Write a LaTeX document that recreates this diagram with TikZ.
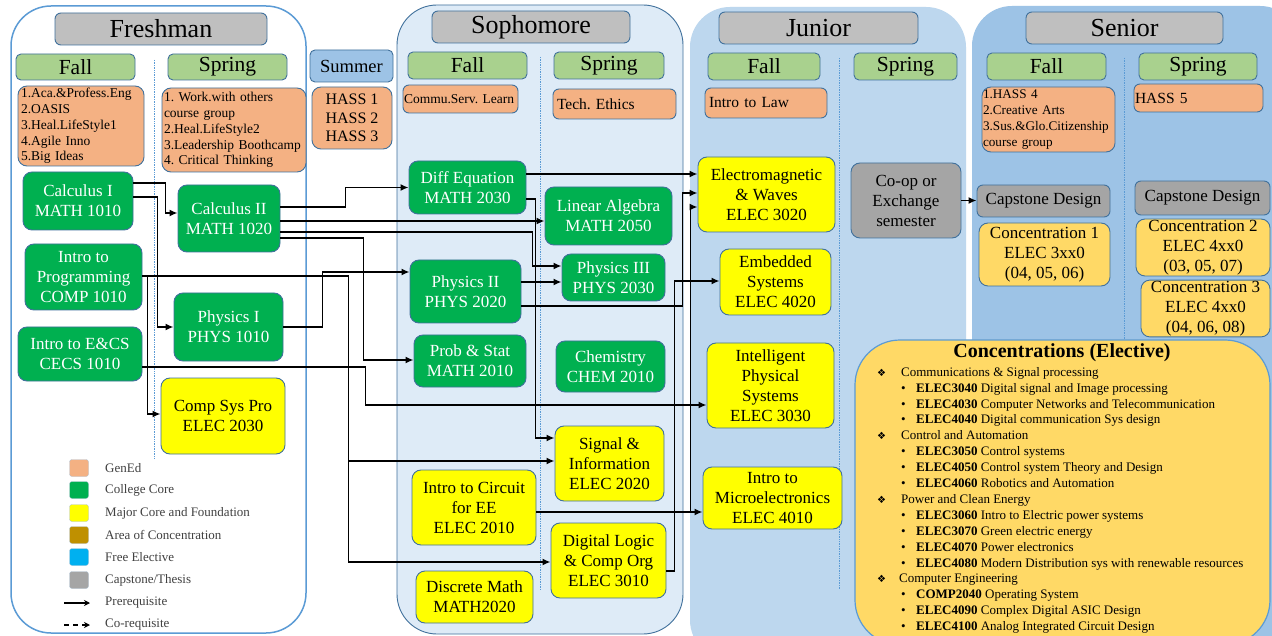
\documentclass[tikz,border=0pt]{standalone}
\usepackage{fontspec}
\setmainfont{Liberation Serif}
\newfontfamily\dejavu{DejaVu Sans}
\usetikzlibrary{arrows.meta}
\frenchspacing
\definecolor{coreg}{HTML}{00B050}
\definecolor{majy}{HTML}{FFFF00}
\definecolor{genc}{HTML}{F4B183}
\definecolor{semg}{HTML}{A9D18E}
\definecolor{hdrg}{HTML}{BFBFBF}
\definecolor{capg}{HTML}{A5A5A5}
\definecolor{concy}{HTML}{FFD966}
\definecolor{bordc}{HTML}{41719C}
\definecolor{sophc}{HTML}{DEEBF7}
\definecolor{junc}{HTML}{BDD7EE}
\definecolor{senc}{HTML}{9DC3E6}
\definecolor{frbord}{HTML}{5B9BD5}
\definecolor{areac}{HTML}{BF9000}
\definecolor{freec}{HTML}{00B0F0}
\definecolor{legtext}{HTML}{404040}
\tikzset{
  bx/.style={draw=bordc, line width=0.9pt, rounded corners=9pt, inner sep=1pt, align=center},
  wh/.style 2 args={minimum width=#1pt, minimum height=#2pt},
  crs/.style={font=\fontsize{17}{20}\selectfont},
  core/.style={bx, crs, fill=coreg, text=white},
  major/.style={bx, crs, fill=majy},
  concbox/.style={bx, crs, fill=concy},
  capbox/.style={bx, crs, fill=capg},
  yearhdr/.style={bx, fill=hdrg, rounded corners=6pt, font=\fontsize{26}{30}\selectfont},
  semhdr/.style={bx, fill=semg, rounded corners=5pt, font=\fontsize{21.5}{24}\selectfont},
  gened/.style={bx, fill=genc, align=left, rounded corners=9pt},
  gsmall/.style={font=\fontsize{13.5}{15.8}\selectfont},
  conn/.style={line width=1.9pt, -{Latex[length=8pt,width=7pt]}},
  sepline/.style={densely dotted, draw=frbord, line width=0.7pt},
  legbox/.style={draw=bordc!40, rounded corners=2.5pt, minimum width=19pt, minimum height=17pt, inner sep=0pt},
  legtxt/.style={anchor=west, text=legtext, font=\fontsize{13}{15}\selectfont, inner sep=0pt},
}
\begin{document}
\begin{tikzpicture}[x=1pt,y=-1pt]
\useasboundingbox (0,0) rectangle (1272,636);
\fill[white] (0,0) rectangle (1272,636);

% ---------- year panels ----------
\draw[draw=frbord, line width=1.5pt, fill=white, rounded corners=40pt] (11,6) rectangle (306,633);
\draw[draw=bordc, line width=0.9pt, fill=sophc, rounded corners=40pt] (397,5) rectangle (683,634);
\fill[junc, rounded corners=40pt] (690,7) rectangle (966,660);
\fill[senc, rounded corners=40pt] (972,6) rectangle (1300,660);

% separators
\draw[sepline] (154,60) -- (154,458);
\draw[sepline] (540,57) -- (540,590);
\draw[sepline] (839,58) -- (839,590);
\draw[sepline] (1124,58) -- (1124,636);

% ---------- headers ----------
\node[yearhdr, wh={212}{32}] (hfr) at (161,29) {Freshman};
\node[yearhdr, wh={198}{32}] (hso) at (531,27) {Sophomore};
\node[yearhdr, wh={199}{32}] (hju) at (818.5,28) {Junior};
\node[yearhdr, wh={197}{32}] (hse) at (1124.5,28) {Senior};

\node[semhdr, wh={119}{26}] (frfall) at (75.5,67) {Fall};
\node[semhdr, wh={119}{26}] (frspr) at (227.5,67) {Spring};
\node[bx, fill=senc, rounded corners=5pt, wh={83}{32}, font=\fontsize{18.5}{22}\selectfont] (summer) at (351.5,66) {Summer};
\node[semhdr, wh={119}{27}] (sofall) at (467.5,65.5) {Fall};
\node[semhdr, wh={110}{27}] (sospr) at (609,65.5) {Spring};
\node[semhdr, wh={112}{27}] (jufall) at (764,66.5) {Fall};
\node[semhdr, wh={103}{27}] (juspr) at (905.5,66.5) {Spring};
\node[semhdr, wh={119}{27}] (sefall) at (1046.5,66.5) {Fall};
\node[semhdr, wh={118}{27}] (sespr) at (1198,66.5) {Spring};

% ---------- GenEd ----------
\node[gened, gsmall, text width=120pt, inner xsep=3pt, minimum height=80pt] (gfrfall) at (81,126)
  {1.Aca.\&Profess.Eng\\2.OASIS\\3.Heal.LifeStyle1\\4.Agile Inno\\5.Big Ideas};
\node[gened, gsmall, text width=140pt, inner xsep=2pt, minimum height=84pt] (gfrspr) at (234,130)
  {1. Work.with others\\course group\\2.Heal.LifeStyle2\\3.Leadership Boothcamp\\4. Critical Thinking};
\node[bx, fill=genc, wh={80}{62}, font=\fontsize{16}{18.7}\selectfont] (gsum) at (352,118)
  {HASS 1\\HASS 2\\HASS 3};
\node[gened, text width=113pt, inner xsep=1pt, minimum height=28pt, font=\fontsize{13.5}{15.8}\selectfont, rounded corners=6pt] (gsofall) at (460.5,99) {Commu.Serv. Learn};
\node[gened, text width=115pt, inner xsep=4pt, minimum height=30pt, font=\fontsize{15.5}{18}\selectfont, rounded corners=6pt] (gsospr) at (614.5,104) {Tech. Ethics};
\node[gened, text width=114pt, inner xsep=4pt, minimum height=30pt, font=\fontsize{15.5}{18}\selectfont, rounded corners=6pt] (gjufall) at (766,103) {Intro to Law};
\node[gened, text width=131pt, inner xsep=1pt, minimum height=65pt, font=\fontsize{13.2}{16}\selectfont] (gsefall) at (1048.5,119.5)
  {1.HASS 4\\2.Creative Arts\\3.Sus.\&Glo.Citizenship\\course group};
\node[gened, text width=127pt, inner xsep=1pt, minimum height=28pt, font=\fontsize{15.5}{18}\selectfont, rounded corners=6pt] (gsespr) at (1198.5,98) {HASS 5};

% ---------- Freshman courses ----------
\node[core, wh={110}{58}] (calcI) at (78,201) {Calculus I\\MATH 1010};
\node[core, wh={117}{66}] (prog) at (83.5,277) {Intro to\\Programming\\COMP 1010};
\node[core, wh={124}{54}] (ecs) at (80,354) {Intro to E\&CS\\CECS 1010};
\node[core, wh={102}{67}] (calcII) at (229,218.5) {Calculus II\\MATH 1020};
\node[core, wh={109}{68}] (phys1) at (228.5,327) {Physics I\\PHYS 1010};
\node[major, wh={124}{76}] (csp) at (223,416) {Comp Sys Pro\\ELEC 2030};

% ---------- Sophomore courses ----------
\node[core, wh={117}{53}] (diffeq) at (467.5,187.5) {Diff Equation\\MATH 2030};
\node[core, wh={127}{58}] (linalg) at (608.5,216) {Linear Algebra\\MATH 2050};
\node[core, wh={103}{47}] (phys3) at (613.5,277.5) {Physics III\\PHYS 2030};
\node[core, wh={111}{63}] (phys2) at (465.5,291.5) {Physics II\\PHYS 2020};
\node[core, wh={112}{52}] (prob) at (470,361) {Prob \& Stat\\MATH 2010};
\node[core, wh={109}{51}] (chem) at (610.5,366.5) {Chemistry\\CHEM 2010};
\node[major, wh={109}{75}] (sig) at (609.5,463.5) {Signal \&\\Information\\ELEC 2020};
\node[major, wh={124}{75}] (circ) at (474,507.5) {Intro to Circuit\\for EE\\ELEC 2010};
\node[major, wh={115}{75}] (dig) at (608.5,560.5) {Digital Logic\\\& Comp Org\\ELEC 3010};
\node[major, wh={117}{52}] (disc) at (474.5,597) {Discrete Math\\MATH2020};

% ---------- Junior courses ----------
\node[major, wh={137}{75}] (em) at (766.5,194.5) {Electromagnetic\\\& Waves\\ELEC 3020};
\node[major, wh={111}{66}] (emb) at (775.5,282) {Embedded\\Systems\\ELEC 4020};
\node[major, wh={127}{85}] (ips) at (770.5,385.5) {Intelligent\\Physical\\Systems\\ELEC 3030};
\node[major, wh={139}{62}] (micro) at (772.5,498) {Intro to\\Microelectronics\\ELEC 4010};
\node[capbox, wh={110}{75}] (coop) at (906,200.5) {Co-op or\\Exchange\\semester};

% ---------- Senior ----------
\node[capbox, wh={133}{32}, rounded corners=6pt] (cap1) at (1043.5,201) {Capstone Design};
\node[concbox, wh={131}{63}] (conc1) at (1044.5,254.5) {Concentration 1\\ELEC 3xx0\\(04, 05, 06)};
\node[capbox, wh={135}{34}, rounded corners=6pt] (cap2) at (1202.5,198) {Capstone Design};
\node[concbox, wh={134}{57}] (conc2) at (1203,247.5) {Concentration 2\\ELEC 4xx0\\(03, 05, 07)};
\node[concbox, wh={129}{55}] (conc3) at (1205.5,308.5) {Concentration 3\\ELEC 4xx0\\(04, 06, 08)};

% ---------- Concentrations (Elective) ----------
\draw[draw=frbord, line width=1.2pt, fill=concy, rounded corners=45pt] (855,340) rectangle (1270,645);
\node[font=\bfseries\fontsize{20}{24}\selectfont, inner sep=0pt] (conctitle) at (1062,353) {Concentrations (Elective)};
\node[anchor=north west, align=left, inner sep=0pt, font=\fontsize{13}{15.9}\selectfont] (conclist) at (877,367) {%
\makebox[24pt][l]{\dejavu\fontsize{10}{10}\selectfont ❖}Communications \& Signal processing\\
\hspace*{24pt}\makebox[15pt][l]{•}\textbf{ELEC3040} Digital signal and Image processing\\
\hspace*{24pt}\makebox[15pt][l]{•}\textbf{ELEC4030} Computer Networks and Telecommunication\\
\hspace*{24pt}\makebox[15pt][l]{•}\textbf{ELEC4040} Digital communication Sys design\\
\makebox[24pt][l]{\dejavu\fontsize{10}{10}\selectfont ❖}Control and Automation\\
\hspace*{24pt}\makebox[15pt][l]{•}\textbf{ELEC3050} Control systems\\
\hspace*{24pt}\makebox[15pt][l]{•}\textbf{ELEC4050} Control system Theory and Design\\
\hspace*{24pt}\makebox[15pt][l]{•}\textbf{ELEC4060} Robotics and Automation\\
\makebox[24pt][l]{\dejavu\fontsize{10}{10}\selectfont ❖}Power and Clean Energy\\
\hspace*{24pt}\makebox[15pt][l]{•}\textbf{ELEC3060} Intro to Electric power systems\\
\hspace*{24pt}\makebox[15pt][l]{•}\textbf{ELEC3070} Green electric energy\\
\hspace*{24pt}\makebox[15pt][l]{•}\textbf{ELEC4070} Power electronics\\
\hspace*{24pt}\makebox[15pt][l]{•}\textbf{ELEC4080} Modern Distribution sys with renewable resources\\
\makebox[22pt][l]{\dejavu\fontsize{10}{10}\selectfont ❖}Computer Engineering\\
\hspace*{24pt}\makebox[15pt][l]{•}\textbf{COMP2040} Operating System\\
\hspace*{24pt}\makebox[15pt][l]{•}\textbf{ELEC4090} Complex Digital ASIC Design\\
\hspace*{24pt}\makebox[15pt][l]{•}\textbf{ELEC4100} Analog Integrated Circuit Design};

% ---------- Legend ----------
\node[legbox, fill=genc] (lg1) at (79,468) {};
\node[legbox, fill=coreg] (lg2) at (79,490) {};
\node[legbox, fill=majy] (lg3) at (79,513) {};
\node[legbox, fill=areac] (lg4) at (79,535) {};
\node[legbox, fill=freec] (lg5) at (79,557) {};
\node[legbox, fill=capg] (lg6) at (79,580) {};
\node[legtxt] (lt1) at (105,468) {GenEd};
\node[legtxt] (lt2) at (105,490) {College Core};
\node[legtxt] (lt3) at (105,513) {Major Core and Foundation};
\node[legtxt] (lt4) at (105,535) {Area of Concentration};
\node[legtxt] (lt5) at (105,557) {Free Elective};
\node[legtxt] (lt6) at (105,580) {Capstone/Thesis};
\node[legtxt] (lt7) at (105,603) {Prerequisite};
\node[legtxt] (lt8) at (105,625) {Co-requisite};
\coordinate (pa) at (64,603);
\coordinate (pb) at (90,603);
\coordinate (ca) at (64,625);
\coordinate (cb) at (90,625);
\draw[line width=1.2pt, -{Stealth[length=6pt,width=6pt]}] (pa) -- (pb);
\draw[line width=1.2pt, dash pattern=on 5pt off 4pt, -{Stealth[length=6pt,width=6pt,open]}] (ca) -- (cb);

% ---------- connectors ----------
\draw[conn] ([yshift=18pt]calcI.east) -- ++(32,0) |- ([yshift=5.5pt]calcII.west);
\draw[conn] ([yshift=4pt]calcI.east) -- ++(24,0) |- (phys1.west);
\draw[conn] ([yshift=1pt]prog.east) -- ++(5,0) |- ([yshift=2pt]csp.west);
\draw[conn] ([yshift=1pt]prog.east) -- ++(206,0) |- ([yshift=2.5pt]sig.west);
\draw[conn] ([yshift=1pt]prog.east) -- ++(206,0) |- ([yshift=-1.5pt]dig.west);
\draw[conn] ([yshift=-13pt]ecs.east) -- ++(223,0) |- ([yshift=-19.5pt]ips.west);
\draw[conn] ([yshift=11.5pt]calcII.east) -- ++(65,0) |- (diffeq.west);
\draw[conn] ([yshift=-2.5pt]calcII.east) -- ([yshift=-5pt]linalg.west);
\draw[conn] ([yshift=-13.5pt]calcII.east) -- ++(252,0) |- ([yshift=11.5pt]phys3.west);
\draw[conn] ([yshift=-19.5pt]calcII.east) -- ++(83,0) |- ([yshift=1pt]prob.west);
\draw[conn] (phys1.east) -- ++(39,0) |- ([yshift=19.5pt]phys2.west);
\draw[conn] ([yshift=9.5pt]phys2.east) -- ([yshift=-4.5pt]phys3.west);
\draw[conn] ([yshift=-14.5pt]phys2.east) -- ++(161,0) |- ([yshift=1.5pt]em.west);
\draw[conn] ([yshift=13.5pt]diffeq.east) -- ([yshift=20.5pt]em.west);
\draw[conn] ([yshift=-11.5pt]diffeq.east) -- ++(9,0) |- ([yshift=25.5pt]sig.west);
\draw[conn] ([yshift=-4.5pt]circ.east) -- ([yshift=-14pt]micro.west);
\draw[conn] ([yshift=-4.5pt]circ.east) -- ++(154,0) |- ([yshift=-12.5pt]em.west);
\draw[conn] ([yshift=-10.5pt]dig.east) -- ++(8,0) |- ([yshift=1pt]emb.west);
\draw[conn] (coop.east) -- (cap1.west |- coop.east);
\end{tikzpicture}
\end{document}
